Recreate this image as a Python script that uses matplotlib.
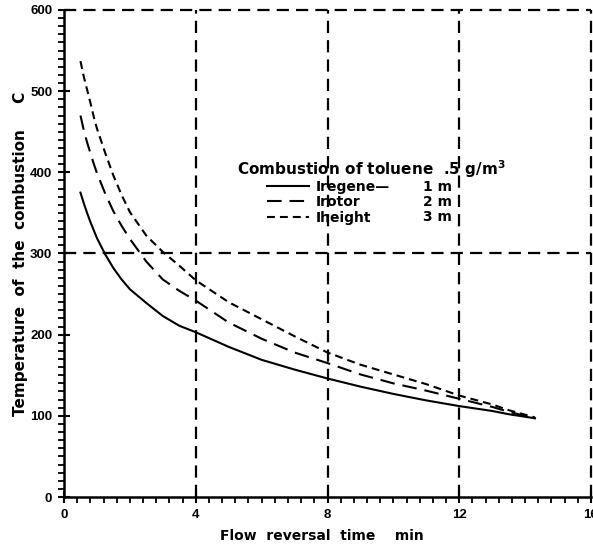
import matplotlib
matplotlib.use("Agg")
import matplotlib.pyplot as plt
from matplotlib.ticker import MultipleLocator

plt.rcParams['font.family'] = ['DejaVu Sans']
plt.rcParams['font.weight'] = 'bold'

# flow reversal time (min) and combustion temperature (C)
tid = [0.5, 0.6, 0.7, 0.8, 0.9, 1.0, 1.25, 1.5, 1.75, 2, 2.5, 3, 3.5, 4,
       5, 6, 7, 8, 9, 10, 11, 12, 13, 13.5, 14.3]
t_1m = [375, 362, 350, 339, 329, 319, 299, 282, 268, 256, 239, 223, 211, 203,
        185, 169, 157, 146, 136, 127, 119, 112, 106, 102, 97]
t_2m = [470, 452, 437, 424, 411, 399, 374, 352, 334, 318, 290, 268, 254, 242,
        215, 195, 178, 165, 151, 140, 131, 121, 111, 105, 97]
t_3m = [537, 518, 502, 486, 469, 454, 424, 396, 372, 351, 322, 302, 285, 267,
        240, 219, 198, 178, 163, 151, 139, 125, 114, 107, 98]
nimet = ['Iregene\u2014', 'Irotor', 'Iheight']
arvot = ['1 m', '2 m', '3 m']
otsikko = 'Combustion of toluene  .5 g/m$^\\mathbf{3}$'

fig = plt.figure(figsize=(5.93, 5.47), dpi=100)
ax = fig.add_axes((64/593, 50/547, 527/593, 487/547))

k1, = ax.plot(tid, t_1m, color='black', lw=1.5, ls='-')
k2, = ax.plot(tid, t_2m, color='black', lw=1.5, ls=(0, (7, 3.8)))
k3, = ax.plot(tid, t_3m, color='black', lw=1.5, ls=(0, (3.8, 2.4)))

# katkoviivaruudukko
for xv in [4, 8, 12, 16]:
    ax.axvline(xv, color='black', lw=1.6, ls=(0, (5.5, 3.2)), clip_on=False)
for yv in [300, 600]:
    ax.axhline(yv, color='black', lw=1.6, ls=(0, (5.5, 3.2)), clip_on=False)

ax.set_xlim(0, 16)
ax.set_ylim(0, 600)
ax.set_xticks([0, 4, 8, 12, 16])
ax.set_yticks([0, 100, 200, 300, 400, 500, 600])
ax.xaxis.set_minor_locator(MultipleLocator(0.4))
ax.yaxis.set_minor_locator(MultipleLocator(10))
ax.tick_params(which='major', direction='inout', length=9, width=1.5, pad=4)
ax.tick_params(which='minor', direction='out', length=4.5, width=1.3)
for l in ax.get_xticklabels() + ax.get_yticklabels():
    l.set_fontweight('bold')
    l.set_fontfamily('Liberation Sans')
    l.set_fontsize(9.5)

for s in ['top', 'right']:
    ax.spines[s].set_visible(False)
for s in ['left', 'bottom']:
    ax.spines[s].set_linewidth(1.8)

ax.set_xlabel('Flow  reversal  time    min', fontsize=10, fontweight='bold')
ax.xaxis.set_label_coords(0.49, -0.065)
ax.set_ylabel('Temperature  of  the  combustion     C', fontsize=11, fontweight='bold')
ax.yaxis.set_label_coords(-0.068, 0.5)

ax.text(0.328, 0.673, otsikko, transform=ax.transAxes, fontsize=11,
        fontweight='bold', va='center', ha='left')
leg = ax.legend([k1, k2, k3], nimet, frameon=False,
                loc='upper left', bbox_to_anchor=(0.385, 0.651),
                fontsize=10, handlelength=3.0, labelspacing=0.1,
                borderpad=0, borderaxespad=0, handletextpad=0.5)
for i, a in enumerate(arvot):
    ax.text(0.681, 0.636 - i * 0.0305, a, transform=ax.transAxes, fontsize=10,
            fontweight='bold', va='center', ha='left')

fig.savefig('out.png', dpi=100)
